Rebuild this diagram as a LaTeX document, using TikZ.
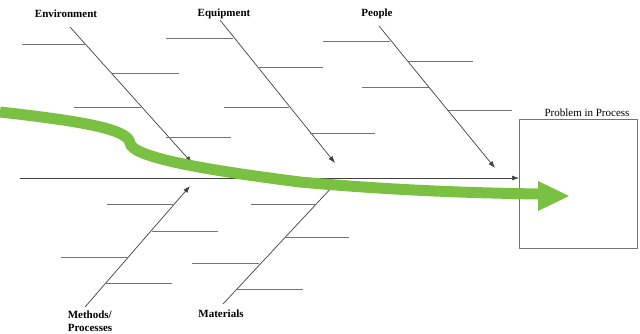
\documentclass[tikz,border=0pt]{standalone}
\usepackage{fontspec}
\setmainfont{Liberation Serif}
\usetikzlibrary{arrows.meta}
\definecolor{fishgreen}{RGB}{122,193,67}

\begin{document}
\begin{tikzpicture}[x=1pt,y=-1pt,
    bone/.style={draw=black!75,line width=0.7pt},
    rib/.style={draw=black!55,line width=1pt},
    tip/.style={-{Latex[length=7pt,width=5pt]}},
    cause/.style={font=\fontsize{11}{13}\selectfont\bfseries,inner sep=0pt},
    flow/.style={draw=fishgreen,line width=11pt}]
  \useasboundingbox (0,0) rectangle (640,333);

  % cause labels
  \node[cause] (env) at (66,14) {Environment};
  \node[cause] (equ) at (224,14) {Equipment};
  \node[cause] (peo) at (377,14) {People};
  \node[cause,align=left] (met) at (90,321) {Methods/\\Processes};
  \node[cause] (mat) at (221,314) {Materials};

  % problem box
  \node[draw=black!55,line width=1pt,minimum width=118,minimum height=129,
        anchor=north west] (prob) at (519,119) {};
  \node[font=\fontsize{11}{13}\selectfont,inner sep=0pt] (probtxt) at (587,113) {Problem in Process};

  % spine
  \coordinate (spS) at (20,178);
  \draw[bone,tip] (spS) -- (spS -| prob.west);

  % bones
  \coordinate (envS) at (70,27);   \coordinate (envE) at (192,163);
  \coordinate (equS) at (220,20);  \coordinate (equE) at (335,163);
  \coordinate (peoS) at (379,26);  \coordinate (peoE) at (495,168);
  \coordinate (metS) at (85,307);  \coordinate (metE) at (190,186);
  \coordinate (matS) at (223,304); \coordinate (matE) at (334,185);
  \foreach \b in {env,equ,peo,met}
    \draw[bone,tip] (\b S) -- (\b E);
  \draw[bone] (matS) -- (matE);

  % ribs
  \foreach \xa/\xb/\y in {22/86/44, 111/179/73, 74/141/107, 166/231/137,
                          166/233/38, 258/323/67, 224/289/107, 310/375/133,
                          323/390/41, 408/473/61, 362/429/87, 447/512/110,
                          107/173/204, 152/218/231, 61/127/257, 106/172/283,
                          251/316/204, 285/349/237, 192/259/263, 237/303/289}
    \draw[rib] (\xa,\y) -- (\xb,\y);

  % green flow arrow
  \coordinate (flowS) at (0,112);
  \coordinate (flowE) at (538,194);
  \draw[flow] (flowS) .. controls (90,122) and (128,130) .. (130,143)
    .. controls (132,156) and (190,168) .. (300,182)
    .. controls (400,191) and (480,193) .. (flowE);
  \fill[fishgreen] (538,181) -- (569,196) -- (538,211) -- cycle;
\end{tikzpicture}
\end{document}
